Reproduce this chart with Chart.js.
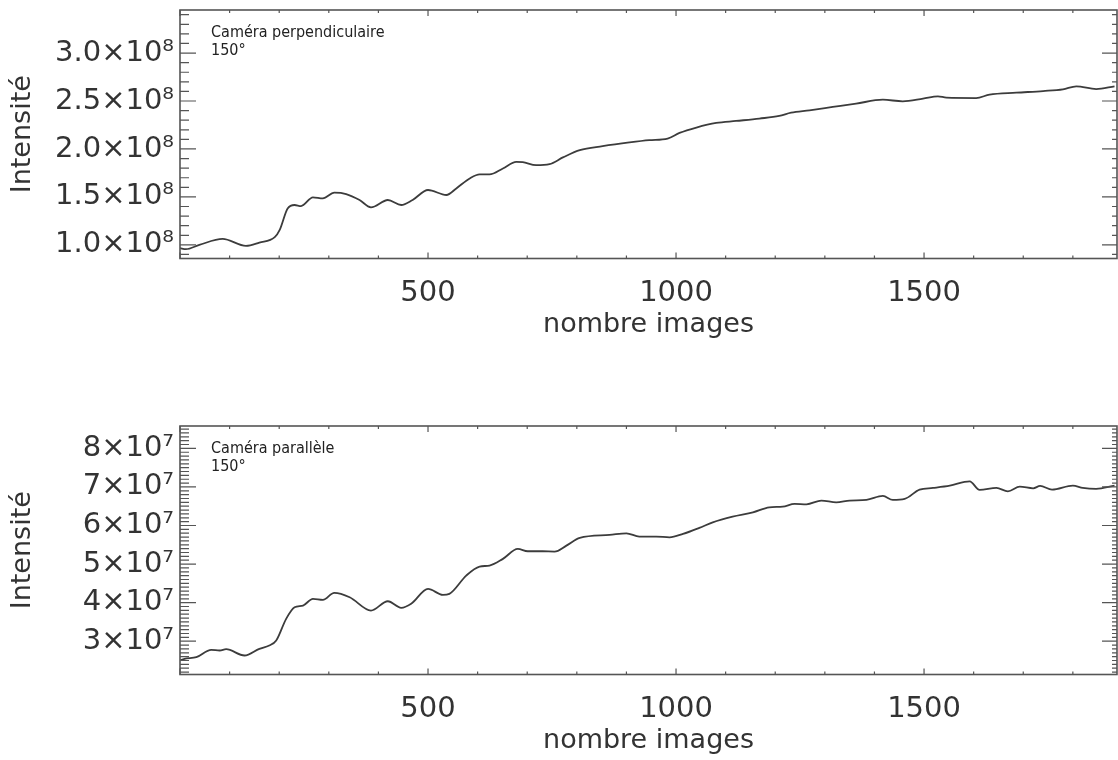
<!DOCTYPE html>
<html>
<head>
<meta charset="utf-8">
<script src="https://cdn.jsdelivr.net/npm/chart.js@4"></script>
<style>
    body { margin: 0; background: #fff; overflow: hidden; }
    .box { position: absolute; left: 0; width: 1118px; height: 350px; }
</style>
</head>
<body>
<div class="box" style="top: 0px;"><canvas id="perpChart" width="1118" height="350"></canvas></div>
<div class="box" style="top: 416px;"><canvas id="paraChart" width="1118" height="350"></canvas></div>
<script>
//Données
const xTicks = [500, 1000, 1500];
const xTickLabels = ["500", "1000", "1500"];

//Caméra perpendiculaire
const perpImages = [0, 12, 39, 86, 133, 160, 191, 201, 217, 231, 244, 268, 288, 311, 335, 362, 385, 419, 446, 469,
    500, 537, 557, 584, 604, 624, 651, 678, 691, 718, 745, 772, 806, 852, 906, 946, 983, 1007, 1041, 1081,
    1121, 1168, 1208, 1232, 1269, 1316, 1363, 1417, 1457, 1498, 1528, 1545, 1605, 1632, 1686, 1740, 1780, 1807, 1847, 1884];
const perpIntensity = [0.966e8, 0.955e8, 1.0e8, 1.062e8, 0.99e8, 1.024e8, 1.08e8, 1.156e8, 1.38e8, 1.416e8,
    1.405e8, 1.496e8, 1.485e8, 1.544e8, 1.53e8, 1.468e8, 1.392e8, 1.468e8, 1.416e8, 1.468e8,
    1.572e8, 1.52e8, 1.589e8, 1.693e8, 1.736e8, 1.735e8, 1.797e8, 1.866e8, 1.863e8, 1.832e8,
    1.842e8, 1.912e8, 1.988e8, 2.029e8, 2.068e8, 2.092e8, 2.109e8, 2.167e8, 2.223e8, 2.271e8,
    2.292e8, 2.317e8, 2.344e8, 2.379e8, 2.403e8, 2.438e8, 2.473e8, 2.514e8, 2.497e8, 2.525e8,
    2.549e8, 2.535e8, 2.531e8, 2.567e8, 2.587e8, 2.604e8, 2.622e8, 2.653e8, 2.625e8, 2.653e8];
const perpYTicks = [1.0e8, 1.5e8, 2.0e8, 2.5e8, 3.0e8];
const perpYLabels = ["1.0×10⁸", "1.5×10⁸", "2.0×10⁸", "2.5×10⁸", "3.0×10⁸"];

//Caméra parallèle
const paraImages = [0, 9, 33, 63, 80, 93, 130, 160, 180, 194, 214, 231, 248, 268, 288, 311, 342, 385, 419, 446,
    466, 500, 530, 543, 577, 604, 624, 651, 681, 701, 731, 755, 779, 806, 866, 900, 926, 960, 987, 1014,
    1047, 1074, 1114, 1155, 1188, 1215, 1239, 1263, 1293, 1323, 1350, 1384, 1417, 1437, 1461, 1491, 1518, 1552, 1592, 1612,
    1646, 1669, 1693, 1720, 1734, 1758, 1800, 1820, 1847, 1884];
const paraIntensity = [2.5e7, 2.544e7, 2.586e7, 2.777e7, 2.759e7, 2.793e7, 2.63e7, 2.803e7, 2.889e7, 3.018e7,
    3.58e7, 3.88e7, 3.925e7, 4.098e7, 4.072e7, 4.254e7, 4.14e7, 3.795e7, 4.036e7, 3.865e7,
    3.969e7, 4.357e7, 4.202e7, 4.228e7, 4.702e7, 4.935e7, 4.961e7, 5.135e7, 5.394e7, 5.332e7,
    5.332e7, 5.324e7, 5.479e7, 5.679e7, 5.756e7, 5.798e7, 5.712e7, 5.712e7, 5.694e7, 5.782e7,
    5.938e7, 6.083e7, 6.231e7, 6.342e7, 6.472e7, 6.49e7, 6.56e7, 6.55e7, 6.645e7, 6.601e7,
    6.645e7, 6.663e7, 6.767e7, 6.663e7, 6.689e7, 6.93e7, 6.974e7, 7.034e7, 7.145e7, 6.922e7,
    6.974e7, 6.886e7, 7.008e7, 6.964e7, 7.026e7, 6.93e7, 7.034e7, 6.974e7, 6.948e7, 7.034e7];
const paraYTicks = [3e7, 4e7, 5e7, 6e7, 7e7, 8e7];
const paraYLabels = ["3×10⁷", "4×10⁷", "5×10⁷", "6×10⁷", "7×10⁷", "8×10⁷"];

const TICK_FONT = { family: "DejaVu Sans", size: 29 };
const TITLE_FONT = { family: "DejaVu Sans", size: 27 };

//Cadre + petites graduations vers l'intérieur (style IDL) + texte du coin
const framePlugin = {
    id: "frame",
    afterDraw(chart) {
        const o = chart.options.plugins.frame;
        const { ctx, chartArea: a, scales } = chart;

        ctx.save();
        ctx.strokeStyle = "#555";
        ctx.lineWidth = 1.6;
        ctx.strokeRect(a.left, a.top, a.right - a.left, a.bottom - a.top);

        ctx.lineWidth = 1.2;
        ctx.beginPath();

        //axe x (haut et bas)
        const xs = scales.x;
        for (let i = Math.ceil(xs.min / o.xMinor); i * o.xMinor <= xs.max; i++) {
            const px = xs.getPixelForValue(i * o.xMinor);
            const len = i % o.xRatio === 0 ? 6 : 3;
            ctx.moveTo(px, a.bottom); ctx.lineTo(px, a.bottom - len);
            ctx.moveTo(px, a.top); ctx.lineTo(px, a.top + len);
        }

        //axe y (gauche et droite)
        const ys = scales.y;
        for (let i = Math.ceil(ys.min / o.yMinor); i * o.yMinor <= ys.max; i++) {
            const py = ys.getPixelForValue(i * o.yMinor);
            const major = i % o.yRatio === 0;
            ctx.moveTo(a.left, py); ctx.lineTo(a.left + (major ? 16 : 9), py);
            ctx.moveTo(a.right, py); ctx.lineTo(a.right - (major ? 15 : 5), py);
        }
        ctx.stroke();

        //texte dans le coin
        ctx.fillStyle = "#222";
        ctx.font = "16px 'DejaVu Sans Condensed', 'DejaVu Sans'";
        ctx.textAlign = "left";
        ctx.textBaseline = "alphabetic";
        o.note.forEach((line, k) => {
            ctx.fillText(line, a.left + 31, a.top + 27 + k * 18);
        });
        ctx.restore();
    }
};

//Créer un graphique
function createChart(canvasId, xValues, yValues, yTicks, yLabels, yMin, yMax, yMinor, yRatio, note) {
    const points = xValues.map((x, i) => ({ x: x, y: yValues[i] }));

    return new Chart(document.getElementById(canvasId), {
        type: "line",
        data: {
            datasets: [{
                data: points,
                borderColor: "#3c3c3c",
                borderWidth: 1.8,
                pointRadius: 0,
                fill: false,
                cubicInterpolationMode: "monotone"
            }]
        },
        options: {
            responsive: false,
            animation: false,
            layout: { padding: { top: 10, right: 1, bottom: 8, left: 0 } },
            plugins: {
                legend: { display: false },
                tooltip: { enabled: false },
                frame: { xMinor: 100, xRatio: 5, yMinor: yMinor, yRatio: yRatio, note: note }
            },
            scales: {
                x: {
                    type: "linear",
                    min: 0,
                    max: 1889,
                    grid: { display: false, drawTicks: false },
                    border: { display: false },
                    ticks: {
                        font: TICK_FONT,
                        color: "#333",
                        padding: 18,
                        maxRotation: 0,
                        callback: v => xTickLabels[xTicks.indexOf(v)]
                    },
                    title: {
                        display: true,
                        text: "nombre images",
                        font: TITLE_FONT,
                        color: "#333",
                        padding: { top: 0, bottom: 1 }
                    },
                    afterBuildTicks: s => { s.ticks = xTicks.map(v => ({ value: v })); },
                    afterFit: s => { s.height = 83.5; s.paddingLeft = 0; s.paddingRight = 0; }
                },
                y: {
                    min: yMin,
                    max: yMax,
                    grid: { display: false, drawTicks: false },
                    border: { display: false },
                    ticks: {
                        font: TICK_FONT,
                        color: "#333",
                        padding: 6,
                        callback: v => yLabels[yTicks.indexOf(v)]
                    },
                    title: {
                        display: true,
                        text: "Intensité",
                        font: TITLE_FONT,
                        color: "#333",
                        padding: { top: 7, bottom: 0 }
                    },
                    afterBuildTicks: s => { s.ticks = yTicks.map(v => ({ value: v })); },
                    afterFit: s => { s.width = 180; s.paddingTop = 0; s.paddingBottom = 0; }
                }
            }
        },
        plugins: [framePlugin]
    });
}

createChart("perpChart", perpImages, perpIntensity, perpYTicks, perpYLabels,
    0.858e8, 3.449e8, 1e7, 5, ["Caméra perpendiculaire", "150°"]);

createChart("paraChart", paraImages, paraIntensity, paraYTicks, paraYLabels,
    2.137e7, 8.58e7, 1e6, 10, ["Caméra parallèle", "150°"]);
</script>
</body>
</html>
